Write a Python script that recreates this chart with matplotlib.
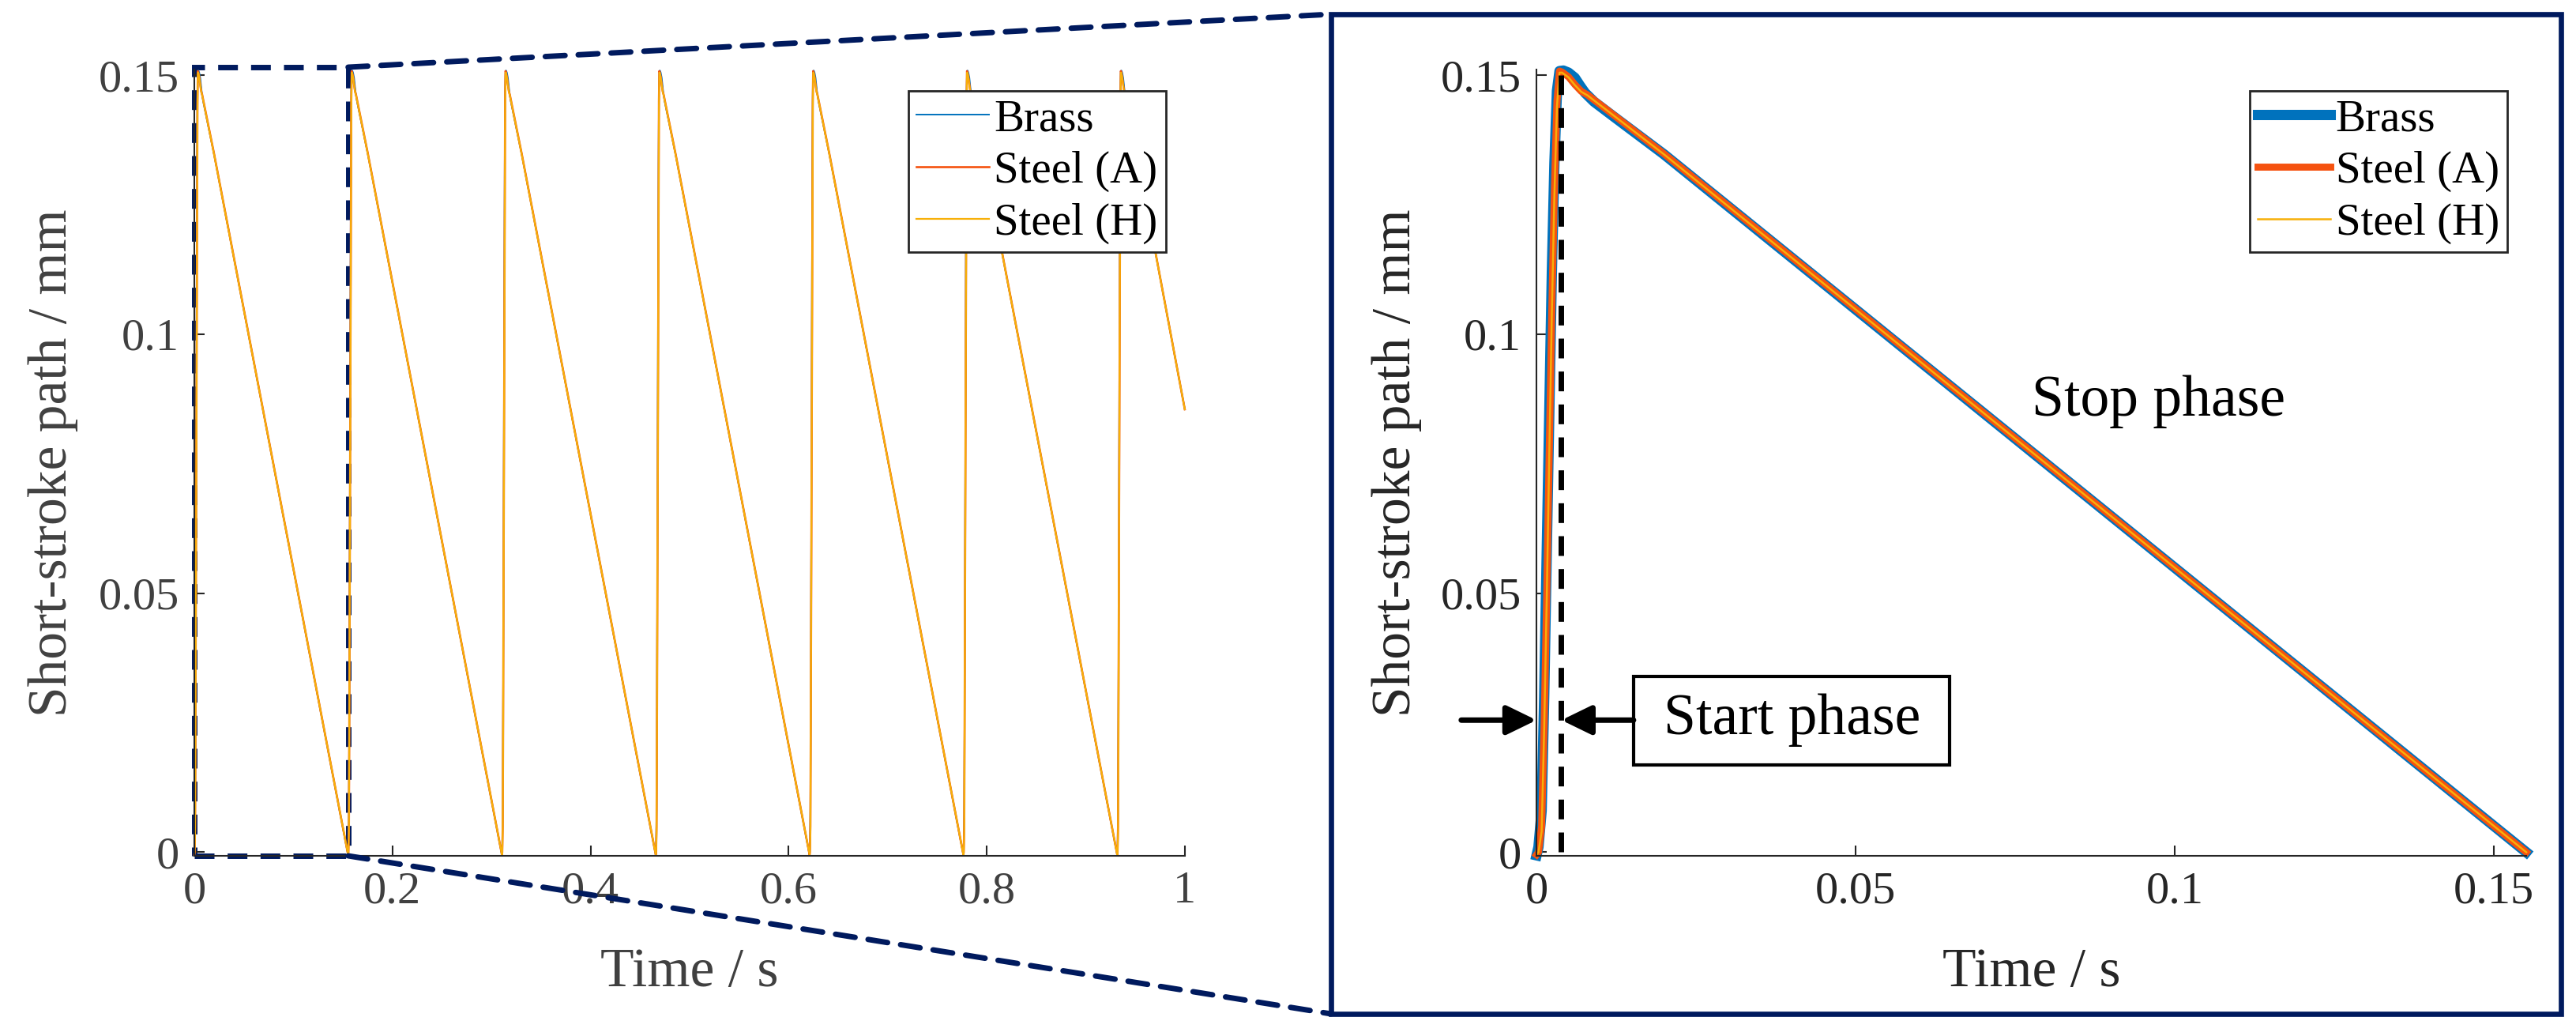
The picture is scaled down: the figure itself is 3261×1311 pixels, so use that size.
"""Short-stroke path over time, full run and zoom on one cycle."""
import numpy as np
import matplotlib

matplotlib.use("Agg")
import matplotlib.pyplot as plt
from matplotlib.patches import Rectangle, ConnectionPatch

plt.rcParams["font.family"] = ["Liberation Serif", "DejaVu Serif"]

# one stroke cycle (time in s, path in mm)
brass_t = [0, 0.0003, 0.0008, 0.0012, 0.0016, 0.002, 0.0024, 0.0028, 0.0032,
           0.0036, 0.0042, 0.005, 0.006, 0.0068, 0.0076, 0.009, 0.012, 0.016,
           0.02, 0.1551]
brass_v = [-0.0006, 0.001, 0.008, 0.03, 0.058, 0.085, 0.112, 0.133, 0.147,
           0.1508, 0.1509, 0.1505, 0.1495, 0.148, 0.1466, 0.1449, 0.1421,
           0.1384, 0.1347, 0.0]

steel_t = [0, 0.0003, 0.0008, 0.0012, 0.0016, 0.002, 0.0024, 0.0028, 0.0032,
           0.0036, 0.004, 0.005, 0.006, 0.007, 0.008, 0.010, 0.012, 0.016,
           0.02, 0.1551]
steel_a_v = [-0.0005, 0.0, 0.005, 0.025, 0.05, 0.078, 0.105, 0.128, 0.145,
             0.1508, 0.1506, 0.1497, 0.1482, 0.1469, 0.1462, 0.1443, 0.1424,
             0.1386, 0.1348, 0.0]
steel_h_v = [-0.0005, 0.0, 0.004, 0.024, 0.049, 0.077, 0.104, 0.127, 0.144,
             0.1505, 0.1505, 0.1496, 0.1481, 0.1468, 0.1461, 0.1442, 0.1423,
             0.1385, 0.1347, 0.0]

# start of each cycle in the 1 s run, and the value where the run ends
cycle_starts = [0.0, 0.1553, 0.3106, 0.4659, 0.6212, 0.7765, 0.9318]
run_end_t = 1.0
run_end_v = 0.0855

labels = ["Brass", "Steel (A)", "Steel (H)"]
colors = ["#0072BD", "#F5520F", "#F7B00A"]

left_xticks = [0, 0.2, 0.4, 0.6, 0.8, 1.0]
left_xlabels = ["0", "0.2", "0.4", "0.6", "0.8", "1"]
right_xticks = [0, 0.05, 0.1, 0.15]
right_xlabels = ["0", "0.05", "0.1", "0.15"]
yticks = [0, 0.05, 0.1, 0.15]
ylabels = ["0", "0.05", "0.1", "0.15"]

NAVY = "#001a5e"
AXC = "#262626"


def full_run(t, v):
    """Repeat one cycle at every start time of the run."""
    t = np.asarray(t)
    v = np.asarray(v)
    ts, vs = [], []
    for s in cycle_starts:
        keep = (s + t < run_end_t) & (t < t[-1])
        ts.append(s + t[keep])
        vs.append(v[keep])
    ts.append([run_end_t])
    vs.append([run_end_v])
    return np.concatenate(ts), np.concatenate(vs)


def style(ax, textc):
    ax.spines[["top", "right"]].set_visible(False)
    for side in ["left", "bottom"]:
        ax.spines[side].set_color(AXC)
        ax.spines[side].set_linewidth(0.75)
    ax.tick_params(direction="in", length=4.7, width=0.75, color=AXC,
                   labelcolor=textc, labelsize=21, pad=7,
                   top=False, right=False)
    ax.set_yticks(yticks, ylabels)
    ax.set_ylim(-0.0007, 0.1511)


fig = plt.figure(figsize=(16.31, 6.555), dpi=200)
ax1 = fig.add_axes([0.0754, 0.1739, 0.3844, 0.759])
ax2 = fig.add_axes([0.5963, 0.1739, 0.3841, 0.759])

# ---- left: whole run
series = [(brass_t, brass_v), (steel_t, steel_a_v), (steel_t, steel_h_v)]
left_lw = [0.7, 0.95, 0.8]
for (t, v), lab, c, lw in zip(series, labels, colors, left_lw):
    rt, rv = full_run(t, v)
    ax1.plot(rt, rv, color=c, lw=lw, label=lab, zorder=2, clip_on=False)

style(ax1, "#404040")
ax1.set_xlim(0, 1)
ax1.set_xticks(left_xticks, left_xlabels)
ax1.set_xlabel("Time / s", fontsize=25, color="#404040")
ax1.set_ylabel("Short-stroke path / mm", fontsize=25, color="#404040")
ax1.xaxis.label.set_va("center")
ax1.xaxis.set_label_coords(0.5, -0.1487)
ax1.yaxis.label.set_va("center")
ax1.yaxis.set_label_coords(-0.1427, 0.5)

# ---- right: one cycle
right_lw = [4.7, 3.2, 0.9]
for (t, v), lab, c, lw in zip(series, labels, colors, right_lw):
    ax2.plot(t, v, color=c, lw=lw, label=lab, zorder=2, clip_on=False)

style(ax2, AXC)
ax2.set_xlim(0, 0.1551)
ax2.set_xticks(right_xticks, right_xlabels)
ax2.set_xlabel("Time / s", fontsize=25, color=AXC)
ax2.set_ylabel("Short-stroke path / mm", fontsize=25, color=AXC)
ax2.xaxis.label.set_va("center")
ax2.xaxis.set_label_coords(0.5, -0.1487)
ax2.yaxis.label.set_va("center")
ax2.yaxis.set_label_coords(-0.141, 0.5)

for ax in (ax1, ax2):
    leg = ax.legend(loc="upper right", bbox_to_anchor=(0.9809, 0.9729),
                    borderaxespad=0, fontsize=20.5, frameon=True,
                    fancybox=False, framealpha=1, edgecolor=AXC,
                    borderpad=0.18, labelspacing=0.24, handlelength=1.61,
                    handletextpad=0.12)
    leg.get_frame().set_linewidth(1.0)
    leg.set_zorder(5)
    for txt in leg.get_texts():
        txt.set_color("black")

# start phase marker and annotations
ax2.plot([0.0038, 0.0038], [0.0, 0.15], color="black", lw=2.5,
         dashes=(3.6, 2.4), zorder=3)
arrow = dict(arrowstyle="-|>,head_length=11.5,head_width=5.6",
             mutation_scale=1, lw=2.5, color="black",
             shrinkA=0, shrinkB=0)
ax2.annotate("", xy=(0.0, 0.0255), xytext=(-0.0118, 0.0255),
             arrowprops=arrow, annotation_clip=False)
ax2.annotate("", xy=(0.0039, 0.0255), xytext=(0.0152, 0.0255),
             arrowprops=arrow, annotation_clip=False)
ax2.add_patch(Rectangle((0.0152, 0.0169), 0.0495, 0.0170, fill=False,
                        ec="black", lw=1.5, zorder=4))
ax2.text(0.04, 0.0255, "Start phase", fontsize=26.5, ha="center",
         va="center", color="black", zorder=5)
ax2.text(0.0975, 0.087, "Stop phase", fontsize=26.5, ha="center",
         va="center", color="black")

# zoom window on the left, frame round the right, and the link lines
ax1.add_patch(Rectangle((0, -0.0007), 0.1553, 0.15225, fill=False,
                        ec=NAVY, lw=2.5, ls=(0, (3.6, 2.4)), zorder=1.5,
                        clip_on=False))
frame_x0, frame_y0 = 1685 / 3262, 1 - 1283 / 1311
frame_x1, frame_y1 = 3242 / 3262, 1 - 18 / 1311
fig.add_artist(Rectangle((frame_x0, frame_y0), frame_x1 - frame_x0,
                         frame_y1 - frame_y0, transform=fig.transFigure,
                         fill=False, ec=NAVY, lw=2.4))
for ya, yb in [(0.15155, frame_y1), (-0.0007, frame_y0)]:
    con = ConnectionPatch(xyA=(0.1553, ya), coordsA=ax1.transData,
                          xyB=(frame_x0, yb), coordsB=fig.transFigure,
                          color=NAVY, lw=2.5, ls=(0, (3.6, 2.4)))
    fig.add_artist(con)

fig.savefig("out.png", dpi=200)
